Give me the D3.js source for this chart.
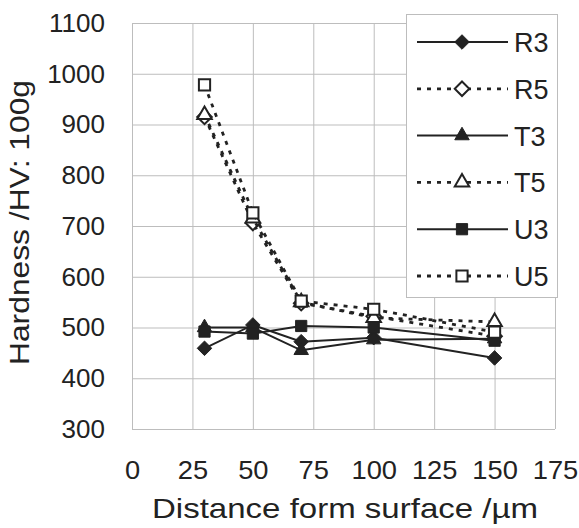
<!DOCTYPE html>
<html>
<head>
<meta charset="utf-8">
<script src="https://cdn.jsdelivr.net/npm/d3@7"></script>
<style>
  body { margin: 0; background: #fff; }
  text { font-family: "Liberation Sans", Arial, sans-serif; fill: #222; }
</style>
</head>
<body>
<div class="chart"></div>
<script>
// depths and hardness readings
const depths = [30, 50, 70, 100, 150]
const seriesNames = ["R3", "R5", "T3", "T5", "U3", "U5"]
const r3 = [459, 505, 472, 480, 440]
const r5 = [915, 706, 548, 522, 483]
const t3 = [500, 500, 455, 476, 478]
const t5 = [919, 715, 550, 519, 511]
const u3 = [492, 488, 503, 500, 474]
const u5 = [978, 726, 552, 536, 491]
const xTicks = [0, 25, 50, 75, 100, 125, 150, 175]
const yTicks = [300, 400, 500, 600, 700, 800, 900, 1000, 1100]

const values = [r3, r5, t3, t5, u3, u5]
const markers = ["diamond", "diamond", "triangle", "triangle", "square", "square"]
const hollow = [false, true, false, true, false, true]

const width = 579
const height = 528
const margin = { top: 23, right: 24, bottom: 99, left: 132 }
const ink = "#222"

const svg = d3.select(".chart")
  .append("svg")
  .attr("width", width)
  .attr("height", height)

const x = d3.scaleLinear()
  .domain([0, 175])
  .range([margin.left, width - margin.right])

const y = d3.scaleLinear()
  .domain([300, 1100])
  .range([height - margin.bottom, margin.top])

// grid
const grid = svg.append("g").attr("stroke", "#bdbdbd").attr("stroke-width", 1)
grid.selectAll(".gx").data(xTicks).join("line")
  .attr("x1", d => x(d) + 0.5).attr("x2", d => x(d) + 0.5)
  .attr("y1", y(300)).attr("y2", y(1100))
grid.selectAll(".gy").data(yTicks).join("line")
  .attr("y1", d => y(d) + 0.5).attr("y2", d => y(d) + 0.5)
  .attr("x1", x(0)).attr("x2", x(175))

// axes (labels only)
svg.append("g")
  .attr("transform", `translate(0, ${y(300) + 29})`)
  .call(d3.axisBottom(x).tickValues(xTicks).tickSize(0).tickFormat(d3.format("d")))
  .call(g => g.select(".domain").remove())
  .selectAll("text")
  .attr("font-size", "26px")
  .attr("font-family", "Liberation Sans, Arial, sans-serif")
  .attr("fill", ink)
  .attr("transform", "scale(1.05,1)")

svg.append("g")
  .attr("transform", `translate(${x(0) - 24}, 0)`)
  .call(d3.axisLeft(y).tickValues(yTicks).tickSize(0).tickFormat(d3.format("d")))
  .call(g => g.select(".domain").remove())
  .selectAll("text")
  .attr("font-size", "26px")
  .attr("font-family", "Liberation Sans, Arial, sans-serif")
  .attr("fill", ink)

// titles
svg.append("text")
  .attr("x", 152)
  .attr("y", 518)
  .attr("font-size", "28px")
  .attr("textLength", 386)
  .attr("lengthAdjust", "spacingAndGlyphs")
  .text("Distance form surface /µm")

svg.append("text")
  .attr("transform", `translate(29, 365) rotate(-90)`)
  .attr("font-size", "28px")
  .attr("textLength", 285)
  .attr("lengthAdjust", "spacingAndGlyphs")
  .text("Hardness /HV: 100g")

const symbolOf = {
  diamond: d3.symbol().type(d3.symbolDiamond2).size(135),
  triangle: d3.symbol().type(d3.symbolTriangle2).size(150),
  square: d3.symbol().type(d3.symbolSquare2).size(160),
}

const line = d3.line()
  .x((d, i) => x(depths[i]))
  .y(d => y(d))

function styleLine(sel, i) {
  sel.attr("fill", "none")
    .attr("stroke", ink)
    .attr("stroke-width", hollow[i] ? 2.8 : 2)
    .attr("stroke-dasharray", hollow[i] ? "4,6" : null)
}

function styleMarker(sel, i) {
  sel.attr("d", symbolOf[markers[i]]())
    .attr("fill", hollow[i] ? "#fff" : ink)
    .attr("stroke", ink)
    .attr("stroke-width", hollow[i] ? 2 : 1)
}

values.forEach((vals, i) => {
  const g = svg.append("g")
  g.append("path").datum(vals).attr("d", line).call(styleLine, i)
  g.selectAll("path.m").data(vals).join("path")
    .attr("class", "m")
    .attr("transform", (d, j) => `translate(${x(depths[j])}, ${y(d)})`)
    .call(styleMarker, i)
})

// legend
const legend = svg.append("g")
legend.append("rect")
  .attr("x", 406.5).attr("y", 14.5)
  .attr("width", 151).attr("height", 283)
  .attr("fill", "#fff")
  .attr("stroke", "#bdbdbd")

seriesNames.forEach((name, i) => {
  const ly = 42 + i * 46.8
  legend.append("path")
    .attr("d", `M417,${ly}H508`)
    .call(styleLine, i)
  legend.append("path")
    .attr("transform", `translate(462, ${ly})`)
    .call(styleMarker, i)
  legend.append("text")
    .attr("x", 514)
    .attr("y", ly + 10)
    .attr("font-size", "27px")
    .text(name)
})
</script>
</body>
</html>
